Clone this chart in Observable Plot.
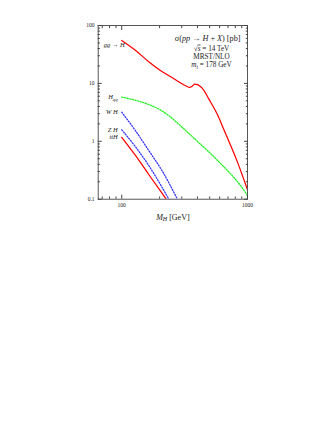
<!DOCTYPE html>
<html><head><meta charset="utf-8">
<script src="https://cdn.jsdelivr.net/npm/d3@7"></script>
<script src="https://cdn.jsdelivr.net/npm/@observablehq/plot@0.6"></script>
<style>html,body{margin:0;padding:0;background:#fff;}</style>
</head><body><div id="chart"></div>
<script>
// gg -> H
const massGG = [100,129,163,203,258,304,330,346,362,381,400,420,450,492,574,648,732,828,912,1000];
const sigmaGG = [55.1,37.0,23.9,16.7,12.15,9.76,8.85,8.55,8.9,9.7,9.55,8.9,7.6,5.4,2.95,1.6,0.86,0.45,0.255,0.145];
// H qq (VBF)
const massHqq = [100,129,164,203,244,304,386,508,633,760,880,1000];
const sigmaHqq = [5.78,5.11,4.32,3.47,2.63,1.73,1.07,0.616,0.382,0.252,0.172,0.116];
// WH
const massWH = [100,129,164,211,277];
const sigmaWH = [3.18,1.51,0.693,0.301,0.1];
// ZH
const massZH = [100,129,164,237];
const sigmaZH = [1.58,0.797,0.382,0.1];
// ttH
const massTTH = [100,129,164,226];
const sigmaTTH = [1.17,0.564,0.267,0.1];

const curveNames = ["gg → H", "Hqq", "WH", "ZH", "ttH"];
const titleLines = ["σ(pp → H + X) [pb]", "√s = 14 TeV", "MRST/NLO", "mt = 178 GeV"];
const xLabel = "MH [GeV]";

const majorX = [100, 1000];
const minorX = [70, 80, 90, 200, 300, 400, 500, 600, 700, 800, 900];
const majorY = [0.1, 1, 10, 100];
const minorY = [0.2,0.3,0.4,0.5,0.6,0.7,0.8,0.9,2,3,4,5,6,7,8,9,20,30,40,50,60,70,80,90];
const xTickLabels = ["100", "1000"];
const yTickLabels = ["0.1", "1", "10", "100"];

const font = "'Liberation Serif', 'DejaVu Serif', serif";
const axisColor = "#444";
const blank = () => "";

const starts = [
  {name: curveNames[1], m: massHqq[0], s: sigmaHqq[0]},
  {name: curveNames[2], m: massWH[0], s: sigmaWH[0]},
  {name: curveNames[3], m: massZH[0], s: sigmaZH[0]},
  {name: curveNames[4], m: massTTH[0], s: sigmaTTH[0]}
];

const solid = {stroke: "#ff0000", strokeWidth: 1.25, curve: "monotone-x", clip: true};
const greenDot = {stroke: "#22f022", strokeDasharray: "1.2,1.5", strokeWidth: 1.3, curve: "monotone-x", clip: true};
const blueDot = {stroke: "#3030ff", strokeDasharray: "1.2,1.6", strokeWidth: 1.25, curve: "monotone-x", clip: true};

const chart = Plot.plot({
  width: 327, height: 423,
  marginLeft: 97.7, marginRight: 80, marginTop: 25, marginBottom: 224.3,
  style: {background: "white", fontFamily: font, color: "#222"},
  x: {type: "log", domain: [65, 1000]},
  y: {type: "log", domain: [0.1, 100]},
  marks: [
    Plot.line(sigmaGG, {x: massGG, y: sigmaGG, ...solid}),
    Plot.line(sigmaHqq, {x: massHqq, y: sigmaHqq, ...greenDot}),
    Plot.line(sigmaWH, {x: massWH, y: sigmaWH, ...blueDot}),
    Plot.line(sigmaZH, {x: massZH, y: sigmaZH, ...blueDot}),
    Plot.line(sigmaTTH, {x: massTTH, y: sigmaTTH, ...solid}),
    Plot.frame({stroke: axisColor, strokeWidth: 0.9}),
    // bottom
    Plot.axisX(majorX, {anchor: "bottom", tickSize: -4, tickPadding: 7.5, tickFormat: d => xTickLabels[majorX.indexOf(d)], fontSize: 5.5, stroke: axisColor, label: null}),
    Plot.axisX(minorX, {anchor: "bottom", tickSize: -2.2, tickFormat: blank, stroke: axisColor, label: null}),
    // top
    Plot.axisX(majorX, {anchor: "top", tickSize: -4, tickFormat: blank, stroke: axisColor, label: null}),
    Plot.axisX(minorX, {anchor: "top", tickSize: -2.2, tickFormat: blank, stroke: axisColor, label: null}),
    // left
    Plot.axisY(majorY, {anchor: "left", tickSize: -4, tickPadding: 7.7, tickFormat: d => yTickLabels[majorY.indexOf(d)], fontSize: 5.5, stroke: axisColor, label: null}),
    Plot.axisY(minorY, {anchor: "left", tickSize: -2.2, tickFormat: blank, stroke: axisColor, label: null}),
    // right
    Plot.axisY(majorY, {anchor: "right", tickSize: -4, tickFormat: blank, stroke: axisColor, label: null}),
    Plot.axisY(minorY, {anchor: "right", tickSize: -2.2, tickFormat: blank, stroke: axisColor, label: null}),
    // curve labels
    Plot.text([curveNames[0]], {x: [massGG[0]], y: [sigmaGG[0]], textAnchor: "end", dx: 3, dy: 4.5, fontSize: 6.5, fill: "#222"}),
    Plot.text(starts, {x: "m", y: "s", text: "name", textAnchor: "end", dx: -4, fontSize: 6.5, fill: "#222"}),
    // title block
    Plot.text([titleLines[0]], {frameAnchor: "top-right", textAnchor: "end", dx: -7, dy: 10, fontSize: 8.2, fill: "#222"}),
    Plot.text([titleLines[1]], {frameAnchor: "top-right", textAnchor: "middle", dx: -36, dy: 20, fontSize: 7.2, fill: "#222"}),
    Plot.text([titleLines[2]], {frameAnchor: "top-right", textAnchor: "middle", dx: -36, dy: 28.3, fontSize: 7.2, fill: "#222"}),
    Plot.text([titleLines[3]], {frameAnchor: "top-right", textAnchor: "middle", dx: -36, dy: 36.7, fontSize: 7.2, fill: "#222"}),
    // x axis label
    Plot.text([xLabel], {frameAnchor: "bottom", dy: 20.5, fontSize: 8, fill: "#222"})
  ]
});

const it = s => `<tspan font-style="italic">${s}</tspan>`;
const sub = s => `<tspan font-style="italic" font-size="75%" dy="1.5">${s}</tspan>`;
const rich = {
  "σ(pp → H + X) [pb]": `σ(${it("pp")} → ${it("H")} + ${it("X")}) [pb]`,
  "√s = 14 TeV": `√<tspan font-style="italic" text-decoration="overline">s</tspan> = 14 TeV`,
  "mt = 178 GeV": `${it("m")}${sub("t")}<tspan dy="-1.5"> = 178 GeV</tspan>`,
  "MH [GeV]": `${it("M")}${sub("H")}<tspan dy="-1.5"> [GeV]</tspan>`,
  "Hqq": `${it("H")}${sub("qq")}`,
  "WH": it("W H"),
  "ZH": it("Z H"),
  "ttH": it("ttH"),
  "gg → H": `${it("gg")} → ${it("H")}`
};
d3.select(chart).selectAll("text").each(function() {
  const t = this.textContent;
  if (rich[t] !== undefined) this.innerHTML = rich[t];
});
document.getElementById("chart").appendChild(chart);
</script>
</body></html>
